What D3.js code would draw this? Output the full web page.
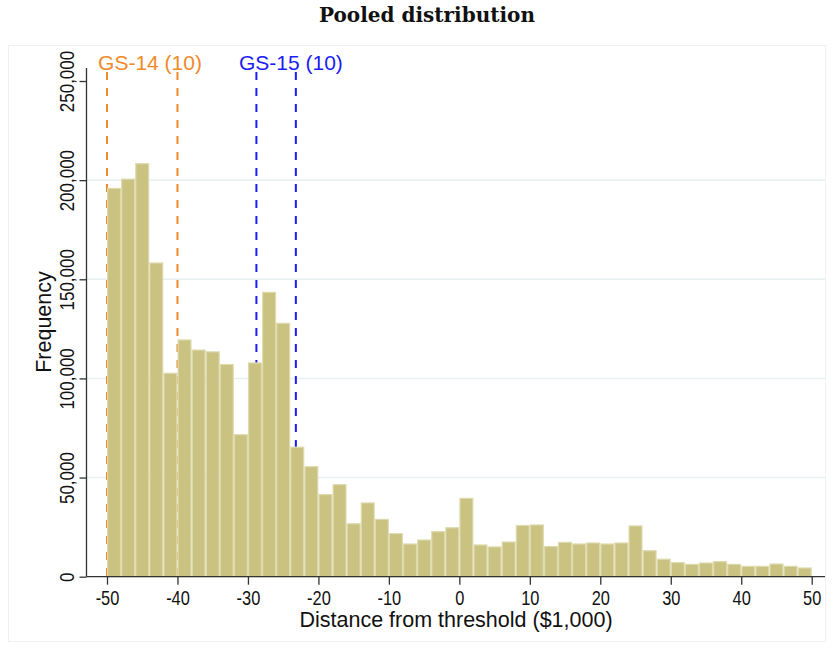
<!DOCTYPE html>
<html>
<head>
<meta charset="utf-8">
<script src="https://cdn.jsdelivr.net/npm/d3@7"></script>
<style>
  html, body { margin: 0; padding: 0; background: #fff; }
  svg { display: block; }
</style>
</head>
<body>
<svg id="chart" width="834" height="651"></svg>
<script>
// ---- data ----
const binStart = [-50,-48,-46,-44,-42,-40,-38,-36,-34,-32,-30,-28,-26,-24,-22,-20,-18,-16,-14,-12,
                  -10,-8,-6,-4,-2,0,2,4,6,8,10,12,14,16,18,20,22,24,26,28,
                  30,32,34,36,38,40,42,44,46,48];
const binWidth = 2;
const frequency = [195800,200500,208300,158200,102600,119400,114300,113400,107000,71600,
                   107800,143400,127800,65300,55500,41400,46400,26700,37200,28900,
                   21700,16500,18500,22700,24700,39500,16000,15000,17500,25800,
                   26100,15200,17300,16500,17000,16500,17000,25600,13100,8800,
                   7100,6200,6900,7600,6200,5200,5200,6400,5200,4400];
const xTicks = [-50,-40,-30,-20,-10,0,10,20,30,40,50];
const yTicks = [0,50000,100000,150000,200000,250000];
const gridTicks = [50000,100000,150000,200000];
const refGroups = ["GS-14 (10)", "GS-15 (10)"];
const refLines = [[-50,-40],[-28.8,-23.2]];
const refLabelX = [-43.9,-23.9];
const refColors = ["#f0892a", "#1c1cf5"];

// ---- layout ----
const svg = d3.select("#chart");
const x = d3.scaleLinear().domain([-50, 50]).range([107, 811.7]);
const y = d3.scaleLinear().domain([0, 250000]).range([576.7, 81]);
const axisLeft = 86.5, axisRight = 825, axisTop = 68;
const sans = "Liberation Sans, Arial";

// outer graph region border
svg.append("rect").attr("x", 8.5).attr("y", 45.5).attr("width", 817).attr("height", 596)
  .attr("fill", "none").attr("stroke", "#eef0f3").attr("stroke-width", 1);

// title
svg.append("text").attr("x", 427).attr("y", 22).attr("text-anchor", "middle")
  .attr("font-family", "DejaVu Serif").attr("font-weight", "bold").attr("font-size", 20)
  .attr("fill", "#111").text("Pooled distribution");

// gridlines
svg.append("g").selectAll("line").data(gridTicks).join("line")
  .attr("x1", axisLeft).attr("x2", axisRight)
  .attr("y1", d => y(d)).attr("y2", d => y(d))
  .attr("stroke", "#e8f0f2").attr("stroke-width", 1.5);

// reference dashed lines (behind bars)
const refG = svg.append("g");
refLines.forEach((pair, i) => {
  refG.selectAll(null).data(pair).join("line")
    .attr("x1", d => x(d)).attr("x2", d => x(d))
    .attr("y1", 72).attr("y2", y(0))
    .attr("stroke", refColors[i]).attr("stroke-width", 2)
    .attr("stroke-dasharray", "8,8");
  refG.append("text").attr("x", x(refLabelX[i])).attr("y", 70)
    .attr("text-anchor", "middle").attr("font-family", sans)
    .attr("font-size", 21).attr("fill", refColors[i]).text(refGroups[i]);
});

// bars
svg.append("g").selectAll("rect").data(frequency).join("rect")
  .attr("x", (d, i) => x(binStart[i]) + 0.6)
  .attr("width", (d, i) => x(binStart[i] + binWidth) - x(binStart[i]) - 1.2)
  .attr("y", d => y(d))
  .attr("height", d => y(0) - y(d))
  .attr("fill", "#c9c280")
  .attr("stroke", "#dedaae").attr("stroke-width", 1.2);

// axes lines
svg.append("line").attr("x1", axisLeft).attr("x2", axisLeft).attr("y1", axisTop).attr("y2", y(0))
  .attr("stroke", "#333").attr("stroke-width", 1.3);
svg.append("line").attr("x1", axisLeft).attr("x2", axisRight).attr("y1", y(0)).attr("y2", y(0))
  .attr("stroke", "#333").attr("stroke-width", 1.3);

// x axis
const xAxis = d3.axisBottom(x).tickValues(xTicks).tickSize(8).tickPadding(5).tickFormat(d => String(d));
const gx = svg.append("g").attr("transform", `translate(0,${y(0)})`).call(xAxis);
gx.select(".domain").remove();
gx.selectAll(".tick line").attr("stroke", "#333").attr("stroke-width", 1.3);
gx.selectAll(".tick text").attr("font-family", sans).attr("font-size", 20).attr("fill", "#111")
  .attr("dy", "0.75em").attr("transform", "scale(0.82,1)");

// y axis
const yAxis = d3.axisLeft(y).tickValues(yTicks).tickSize(7).tickPadding(0).tickFormat(d3.format(","));
const gy = svg.append("g").attr("transform", `translate(${axisLeft},0)`).call(yAxis);
gy.select(".domain").remove();
gy.selectAll(".tick line").attr("stroke", "#333").attr("stroke-width", 1.3);
gy.selectAll(".tick text")
  .attr("font-family", sans).attr("font-size", 20).attr("fill", "#111")
  .attr("x", null).attr("dy", null)
  .attr("text-anchor", "middle")
  .attr("transform", "translate(-12.5,0) rotate(-90) scale(0.85,1)");

// axis titles
svg.append("text").attr("x", 456).attr("y", 627).attr("text-anchor", "middle")
  .attr("font-family", sans).attr("font-size", 21.5).attr("fill", "#111")
  .text("Distance from threshold ($1,000)");
svg.append("text").attr("transform", "translate(51,322) rotate(-90)").attr("text-anchor", "middle")
  .attr("font-family", sans).attr("font-size", 21.5).attr("fill", "#111")
  .text("Frequency");
</script>
</body>
</html>
